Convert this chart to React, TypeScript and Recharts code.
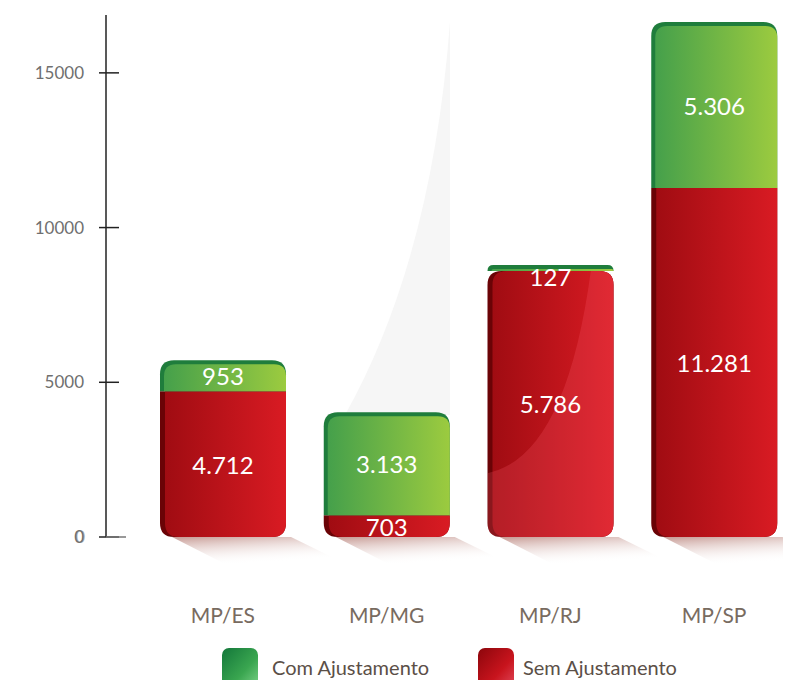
import { BarChart, Bar, XAxis, YAxis, Legend, LabelList, Customized } from "recharts"

const categories = ["MP/ES", "MP/MG", "MP/RJ", "MP/SP"]
// bar heights
const semAjustamento = [4712, 703, 8600, 11281]
const comAjustamento = [1000, 3330, 190, 5360]
// printed labels
const semLabels = ["4.712", "703", "5.786", "11.281"]
const comLabels = ["953", "3.133", "127", "5.306"]
const yTicks = [0, 5000, 10000, 15000]

const data = categories.map((name, i) => ({
  name,
  sem: semAjustamento[i],
  com: comAjustamento[i],
  semLabel: semLabels[i],
  comLabel: comLabels[i],
}))

const AXIS_X = 106
const FONT = "Lato, 'Open Sans', sans-serif"
const R = 14

function roundedPath(x: number, y: number, w: number, h: number, rt: number, rb: number) {
  rt = Math.min(rt, h, w / 2)
  rb = Math.min(rb, h, w / 2)
  return `M${x},${y + rt} Q${x},${y} ${x + rt},${y} L${x + w - rt},${y} Q${x + w},${y} ${x + w},${y + rt} L${x + w},${y + h - rb} Q${x + w},${y + h} ${x + w - rb},${y + h} L${x + rb},${y + h} Q${x},${y + h} ${x},${y + h - rb} Z`
}

function RedShape(props: any) {
  const { x, y, width, height, payload, index } = props
  const greenPx = (height * payload.com) / payload.sem
  const rt = greenPx < 10 ? R : 0
  const b = y + height
  const d = roundedPath(x, y, width, height, rt, R)
  return (
    <g>
      <polygon
        points={`${x + 12},${b} ${x + width + 5},${b} ${x + width + 60},${b + 27} ${x + 65},${b + 27}`}
        fill="url(#shadowGrad)"
      />
      <path d={d} fill="#6a0306" />
      <path d={roundedPath(x + 5, y, width - 5, height, rt, R)} fill="url(#redGrad)" />
      {index === 2 && (
        <>
          <clipPath id="glossClip">
            <path d={d} />
          </clipPath>
          <path
            clipPath="url(#glossClip)"
            d={`M${x + width * 0.82},${y} Q${x + width * 0.62},${y + height * 0.7} ${x},${y + height * 0.76} L${x},${b} L${x + width},${b} L${x + width},${y} Z`}
            fill="#ff6070"
            fillOpacity={0.22}
          />
        </>
      )}
    </g>
  )
}

function GreenShape(props: any) {
  const { x, y, width, height } = props
  if (!height || height <= 0) return null
  const inner = Math.max(height - 4, 0)
  return (
    <g>
      <path d={roundedPath(x, y, width, height, R, 0)} fill="#1f7d3c" />
      {inner > 0 && <path d={roundedPath(x + 4, y + 4, width - 4, inner, R - 2, 0)} fill="url(#greenGrad)" />}
    </g>
  )
}

const renderValue = (props: any) => {
  const { x, y, width, height, value } = props
  let cy = y + height / 2
  if (height < 10) cy = y + height + 6
  return (
    <text
      x={x + width / 2}
      y={cy}
      fill="#ffffff"
      fontSize={24}
      fontFamily={FONT}
      textAnchor="middle"
      dominantBaseline="central"
    >
      {value}
    </text>
  )
}

const YTick = (props: any) => {
  const { y, payload } = props
  const v = payload.value
  return (
    <g>
      <line x1={AXIS_X - 7} x2={AXIS_X + 13} y1={y} y2={y} stroke="#222" strokeWidth={1.5} />
      {v === 0 && <line x1={AXIS_X} x2={AXIS_X + 20} y1={y} y2={y} stroke="#777" strokeWidth={1.5} />}
      {v === 0 && (
        <text x={AXIS_X - 21} y={y + 6} fill="#aaa" fontSize={17} fontFamily={FONT} textAnchor="end">
          0
        </text>
      )}
      <text x={AXIS_X - 22} y={y + 6} fill="#6f6f6f" fontSize={17} fontFamily={FONT} textAnchor="end">
        {v}
      </text>
    </g>
  )
}

const XTick = (props: any) => {
  const { x, payload } = props
  return (
    <text x={x} y={623} fill="#786b60" fontSize={21} fontFamily={FONT} textAnchor="middle">
      {payload.value}
    </text>
  )
}

const renderLegend = () => (
  <svg width={791} height={40} style={{ display: "block", overflow: "visible" }}>
    <defs>
      <linearGradient id="lgGreen" x1="0" y1="0" x2="1" y2="1">
        <stop offset="0%" stopColor="#13773a" />
        <stop offset="60%" stopColor="#3aa650" />
        <stop offset="100%" stopColor="#7dd389" />
      </linearGradient>
      <linearGradient id="lgRed" x1="0" y1="0" x2="1" y2="1">
        <stop offset="0%" stopColor="#8c060c" />
        <stop offset="60%" stopColor="#c8141d" />
        <stop offset="100%" stopColor="#e0485a" />
      </linearGradient>
    </defs>
    <rect x={222} y={8} width={36} height={40} rx={7} fill="url(#lgGreen)" />
    <text x={272} y={35} fill="#5b4f47" fontSize={20} fontFamily={FONT}>
      Com Ajustamento
    </text>
    <rect x={478} y={8} width={36} height={40} rx={7} fill="url(#lgRed)" />
    <text x={523} y={35} fill="#5b4f47" fontSize={20} fontFamily={FONT}>
      Sem Ajustamento
    </text>
  </svg>
)

const Swoosh = () => (
  <path d="M450,22 L450,415 L345,415 Q432,260 450,22 Z" fill="#f6f6f6" />
)

export default function App() {
  return (
    <div style={{ marginLeft: -8, marginTop: -8, width: 791, height: 680, background: "#fff" }}>
      <BarChart
        width={791}
        height={680}
        data={data}
        margin={{ top: 15, right: -5, bottom: 0, left: 0 }}
        barSize={126}
      >
        <defs>
          <linearGradient id="redGrad" x1="0" y1="0" x2="1" y2="0">
            <stop offset="0%" stopColor="#a00c12" />
            <stop offset="100%" stopColor="#d91b23" />
          </linearGradient>
          <linearGradient id="greenGrad" x1="0" y1="0" x2="1" y2="0">
            <stop offset="0%" stopColor="#45a04b" />
            <stop offset="100%" stopColor="#9ccb3f" />
          </linearGradient>
          <linearGradient id="shadowGrad" x1="0" y1="0" x2="0.4" y2="1">
            <stop offset="0%" stopColor="#b88078" stopOpacity={0.8} />
            <stop offset="100%" stopColor="#ffffff" stopOpacity={0} />
          </linearGradient>
        </defs>
        <Customized component={Swoosh} />
        <XAxis
          dataKey="name"
          height={103}
          axisLine={false}
          tickLine={false}
          padding={{ left: 35, right: 0 }}
          tick={XTick}
          interval={0}
        />
        <YAxis
          width={106}
          domain={[0, 16870]}
          ticks={yTicks}
          axisLine={{ stroke: "#222", strokeWidth: 1.5 }}
          tickLine={false}
          tick={YTick}
        />
        <Legend
          verticalAlign="bottom"
          content={renderLegend}
          wrapperStyle={{ width: 791, left: 0, bottom: 0, height: 40 }}
        />
        <Bar dataKey="sem" name="Sem Ajustamento" stackId="a" shape={RedShape} isAnimationActive={false}>
          <LabelList dataKey="semLabel" content={renderValue} />
        </Bar>
        <Bar dataKey="com" name="Com Ajustamento" stackId="a" shape={GreenShape} isAnimationActive={false}>
          <LabelList dataKey="comLabel" content={renderValue} />
        </Bar>
      </BarChart>
    </div>
  )
}
